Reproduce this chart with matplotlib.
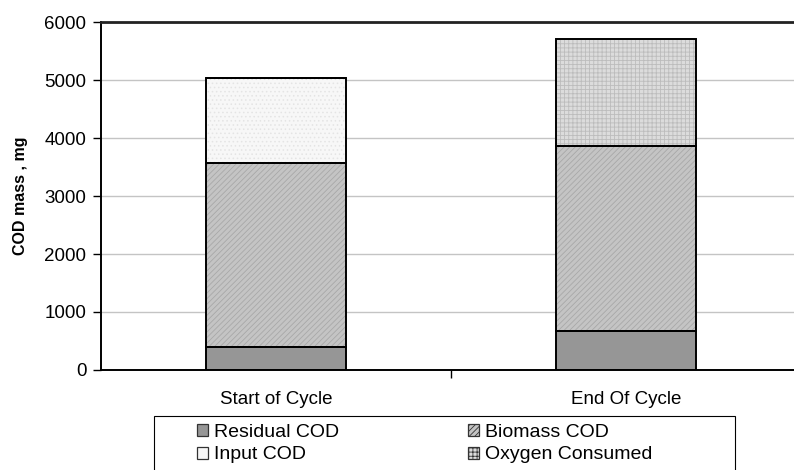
import numpy as np
import matplotlib.pyplot as plt
from matplotlib.patches import Patch, Rectangle

plt.rcParams["font.family"] = ["Liberation Sans", "DejaVu Sans"]
plt.rcParams["hatch.linewidth"] = 0.6

# -----------------------------
# Data (COD mass, mg)
# -----------------------------
categories = ["Start of Cycle", "End Of Cycle"]
residual_cod = [400, 670]
biomass_cod = [3170, 3190]
input_cod = [1460, 0]
oxygen_consumed = [0, 1850]

series = [
    ("Residual COD", residual_cod, "#969696", None, "#969696"),
    ("Biomass COD", biomass_cod, "#c4c4c4", "//////", "#a8a8a8"),
    ("Input COD", input_cod, "#f7f7f7", "....", "#e4e4e4"),
    ("Oxygen Consumed", oxygen_consumed, "#dcdcdc", "++++", "#bcbcbc"),
]

W, H = 794, 470
fig = plt.figure(figsize=(W / 100, H / 100), dpi=100)
ax = fig.add_axes([101 / W, 1 - 370 / H, 700 / W, 348 / H])

x = np.arange(len(categories))
width = 0.4
bottom = np.zeros(len(categories))
handles = {}
for label, vals, face, hatch, hcol in series:
    vals = np.asarray(vals, dtype=float)
    # patterned fill first, then a crisp black outline on top
    ax.bar(x, vals, width, bottom=bottom, color=face, hatch=hatch,
           edgecolor=hcol, linewidth=0, zorder=2)
    ax.bar(x, vals, width, bottom=bottom, facecolor="none",
           edgecolor="black", linewidth=1.4, zorder=3)
    key_hatch = None if label == "Input COD" else hatch
    handles[label] = Patch(facecolor=face, hatch=key_hatch,
                           edgecolor="#333333", linewidth=0.9)
    bottom += vals

ax.set_xlim(-0.5, 1.5)
ax.set_ylim(0, 6000)
ax.set_yticks(range(0, 6001, 1000))
ax.yaxis.grid(True, color="#c4c4c4", linewidth=1.0, zorder=0)
ax.set_axisbelow(True)

# category names under the bars, divider tick between them
ax.set_xticks(x)
ax.set_xticklabels(categories)
ax.set_xticks([0.5], minor=True)
ax.tick_params(axis="x", which="major", length=0, labelsize=13.5, pad=15)
ax.tick_params(axis="x", which="minor", direction="out", length=5.5, width=1)
ax.tick_params(axis="y", direction="out", length=5.5, width=1,
               labelsize=13.5, pad=5)

ax.spines["left"].set_linewidth(1.4)
ax.spines["bottom"].set_linewidth(1.4)
ax.spines["top"].set_linewidth(2.0)
ax.spines["top"].set_color("#222222")
ax.spines["right"].set_visible(False)

ax.set_ylabel("COD mass , mg", fontsize=11.5, fontweight="bold")
ax.yaxis.set_label_coords(-0.105, 0.5)

# legend: box drawn by hand, entries as two single-column legends
fig.patches.append(Rectangle((154 / W, -0.05), (735 - 154) / W,
                             1 - 416 / H + 0.05, transform=fig.transFigure,
                             facecolor="white", edgecolor="black",
                             linewidth=0.8, zorder=1))
leg_kw = dict(loc="upper left", frameon=False, fontsize=14,
              handlelength=0.58, handleheight=0.58, handletextpad=0.3,
              borderpad=0, labelspacing=0.28, borderaxespad=0)
for col_x, names in [(197, ["Residual COD", "Input COD"]),
                     (468, ["Biomass COD", "Oxygen Consumed"])]:
    fig.legend([handles[k] for k in names], names,
               bbox_to_anchor=(col_x / W, 1 - 424 / H), **leg_kw)

fig.savefig("out.png", dpi=100)
